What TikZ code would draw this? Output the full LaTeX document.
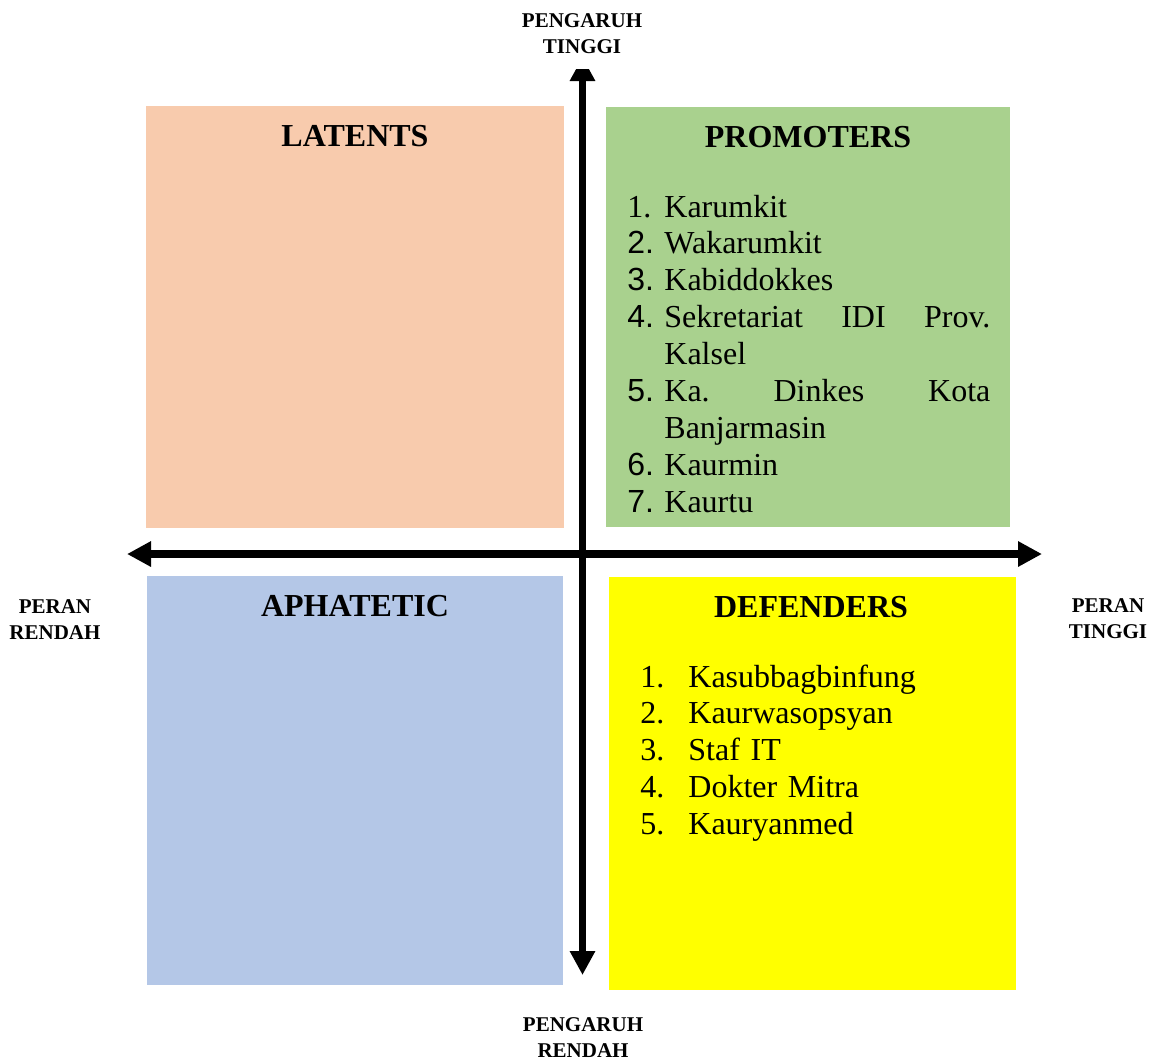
\documentclass[tikz,border=0pt]{standalone}
\usepackage{fontspec}
\setmainfont{Liberation Serif}
\newfontfamily\arialfont{Liberation Sans}
\usetikzlibrary{arrows.meta}
\definecolor{latentfill}{HTML}{F8CBAD}
\definecolor{promoterfill}{HTML}{A9D18E}
\definecolor{apathfill}{HTML}{B4C7E7}
\definecolor{defenderfill}{HTML}{FFFF00}
\tikzstyle{quadrant} = [
  draw=none,
  inner sep=0pt,
  outer sep=0pt,
  anchor=north west,
  ]
\tikzstyle{axis} = [
  line width=3.75pt,
  {Triangle[length=12pt,width=12pt]}-{Triangle[length=12pt,width=12pt]},
  ]
\tikzstyle{heading} = [
  font=\bfseries\fontsize{16}{19}\selectfont,
  anchor=base,
  inner sep=0pt,
  ]
\tikzstyle{axislabel} = [
  font=\bfseries\fontsize{10.5}{13}\selectfont,
  align=center,
  anchor=base,
  inner sep=0pt,
  ]
\tikzstyle{namelist} = [
  font=\fontsize{16}{18.45}\selectfont,
  align=left,
  anchor=base west,
  inner sep=0pt,
  ]
\newcommand{\promno}[1]{\makebox[18.5pt][l]{#1}}
\newcommand{\defno}[1]{\makebox[24pt][l]{#1}}

\begin{document}
\begin{tikzpicture}[x=0.5pt,y=-0.5pt]
  \useasboundingbox (0,0) rectangle (1154,1062);

  % the four quadrants
  \node[quadrant, fill=latentfill, minimum width=209pt, minimum height=211pt]
    (latents) at (146,106) {};
  \node[quadrant, fill=promoterfill, minimum width=202pt, minimum height=210pt]
    (promoters) at (606,107) {};
  \node[quadrant, fill=apathfill, minimum width=208pt, minimum height=204.5pt]
    (apathetic) at (147,576) {};
  \node[quadrant, fill=defenderfill, minimum width=203.5pt, minimum height=206.5pt]
    (defenders) at (609,577) {};

  \node[heading] (latents-title) at (355,146) {LATENTS};
  \node[heading] (promoters-title) at (808,147) {PROMOTERS};
  \node[heading] (apathetic-title) at (355,616) {APHATETIC};
  \node[heading] (defenders-title) at (811,617) {DEFENDERS};

  \node[namelist, text width=181.5pt] (promoters-list) at (627,217) {
    \promno{1.}Karumkit\\
    \promno{\arialfont 2.}Wakarumkit\\
    \promno{\arialfont 3.}Kabiddokkes\\
    \promno{\arialfont 4.}Sekretariat\hfill IDI\hfill Prov.\\
    \promno{}Kalsel\\
    \promno{\arialfont 5.}Ka.\hfill Dinkes\hfill Kota\\
    \promno{}Banjarmasin\\
    \promno{\arialfont 6.}Kaurmin\\
    \promno{\arialfont 7.}Kaurtu};

  \node[namelist, text width=180pt] (defenders-list) at (640,687) {
    \defno{1.}Kasubbagbinfung\\
    \defno{2.}Kaurwasopsyan\\
    \defno{3.}Staf IT\\
    \defno{4.}Dokter Mitra\\
    \defno{5.}Kauryanmed};

  % axes
  \coordinate (high) at (582.5,57);
  \coordinate (low) at (582.5,975);
  \coordinate (lowrole) at (127,554);
  \coordinate (highrole) at (1042,554);
  \draw[axis] (lowrole) -- (highrole);
  \begin{scope}
    \clip (0,69) rectangle (1154,1062);
    \draw[axis] (high) -- (low);
  \end{scope}

  \node[axislabel] (influence-high) at (582,53) {PENGARUH\\TINGGI};
  \node[axislabel] (influence-low) at (583,1057) {PENGARUH\\RENDAH};
  \node[axislabel] (role-low) at (55,639) {PERAN\\RENDAH};
  \node[axislabel] (role-high) at (1108,638) {PERAN\\TINGGI};
\end{tikzpicture}
\end{document}
